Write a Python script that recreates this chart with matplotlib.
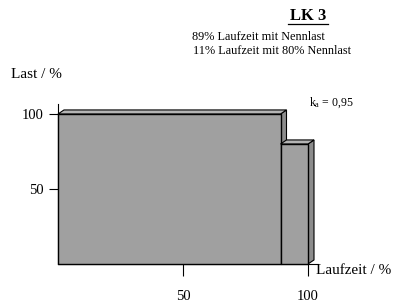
import matplotlib
matplotlib.use("Agg")
from matplotlib import pyplot as plt
from matplotlib.patches import Polygon

# Lastdauer LK 3: Stufengrenzen (Laufzeit in %) und Last je Stufe (%)
laufzeit = [0, 89, 100]
last = [100, 80]
x_ticks = [50, 100]
y_ticks = [50, 100]
legende = ["89% Laufzeit mit Nennlast", "11% Laufzeit mit 80% Nennlast"]
ka_text = "0,95"

plt.rcParams["font.family"] = ["Liberation Serif", "DejaVu Serif"]
plt.rcParams["mathtext.fontset"] = "custom"
plt.rcParams["mathtext.rm"] = "Liberation Serif"
plt.rcParams["mathtext.it"] = "Liberation Serif:italic"

fig = plt.figure(figsize=(3.96, 3.04), dpi=100)
ax = fig.add_axes([58 / 396, 40 / 304, 260 / 396, 160.5 / 304])
ax.set_xlim(0, 104)
ax.set_ylim(0, 107)

grau = "#a0a0a0"
dx, dy = 2.4, 2.7  # Tiefe des 3D-Effekts
for i, h in enumerate(last):
    x0, x1 = laufzeit[i], laufzeit[i + 1]
    front = Polygon([(x0, 0), (x1, 0), (x1, h), (x0, h)], closed=True,
                    facecolor=grau, edgecolor="black", lw=1.0, clip_on=False, zorder=3 + i)
    top = Polygon([(x0, h), (x0 + dx, h + dy), (x1 + dx, h + dy), (x1, h)], closed=True,
                  facecolor="#b4b4b4", edgecolor="black", lw=0.8, clip_on=False, zorder=3 + i)
    side = Polygon([(x1, 0), (x1 + dx, dy), (x1 + dx, h + dy), (x1, h)], closed=True,
                   facecolor="#8c8c8c", edgecolor="black", lw=0.8, clip_on=False, zorder=3 + i)
    for p in (side, top, front):
        ax.add_patch(p)

for s in ["top", "right"]:
    ax.spines[s].set_visible(False)
ax.spines["left"].set_linewidth(0.8)
ax.spines["bottom"].set_linewidth(0.8)

ax.set_xticks(x_ticks)
ax.set_yticks(y_ticks)
ax.tick_params(axis="x", direction="out", length=8.5, width=0.8, pad=10, labelsize=10.5)
ax.tick_params(axis="y", direction="out", length=6.5, width=0.8, pad=4, labelsize=10.5)

fig.text(11 / 396, 1 - 75 / 304, "Last / %", fontsize=11, va="center", ha="left")
fig.text(316 / 396, 1 - 271 / 304, "Laufzeit / %", fontsize=11, va="center", ha="left")

fig.text(308 / 396, 1 - 16 / 304, "LK 3", fontsize=12, fontweight="bold",
         ha="center", va="center")
fig.add_artist(plt.Line2D([288 / 396, 328 / 396], [1 - 24 / 304, 1 - 24 / 304],
                          color="black", lw=0.9))
fig.text(192 / 396, 1 - 37.5 / 304, legende[0], fontsize=8.8, ha="left", va="center")
fig.text(193 / 396, 1 - 51.5 / 304, legende[1], fontsize=8.8, ha="left", va="center")

fig.text(309 / 396, 1 - 103 / 304, r"k$_\mathregular{a}$ = " + ka_text, fontsize=8.5,
         ha="left", va="center")

plt.savefig("out.png", dpi=100)
